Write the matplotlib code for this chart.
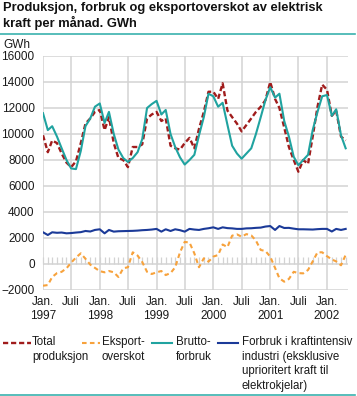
import pandas as pd
import numpy as np
import matplotlib.pyplot as plt
from matplotlib.lines import Line2D

plt.rcParams['font.family'] = ['Liberation Sans', 'DejaVu Sans']

# Monthly values, Jan 1997 - May 2002 (GWh)
months = pd.date_range(start='1997-01-01', periods=65, freq='MS')

total_produksjon = [
    9900, 8600, 9500, 9300, 8500, 7800, 7450, 7900, 9300, 10800, 11200, 11700,
    11850, 10300, 11300, 9300, 8150, 8000, 7450, 9000, 9000, 9200, 11200, 11500,
    11700, 11000, 11200, 9100, 8900, 8800, 9300, 9700, 8900, 10400, 11700, 13250,
    13250, 12700, 13900, 11800, 11300, 10800, 10200, 10700, 11200, 11700, 12100, 12600,
    14000, 12700, 12000, 10500, 9000, 8000, 7100, 8000, 7700, 9800, 12100, 13800,
    13400, 11400, 11800, 9800, 9500,
]
eksportoverskot = [
    -1670, -1620, -1000, -700, -600, -330, 100, 500, 820, 400, -50, -300,
    -550, -640, -540, -640, -1000, -330, -250, 900, 650, 150, -600, -770,
    -640, -540, -850, -700, -250, 900, 1700, 1650, 820, -250, 440, 180,
    570, 690, 1500, 1300, 2180, 2280, 2100, 2300, 2200, 1800, 1080, 1000,
    570, -300, -1100, -1360, -1150, -600, -700, -720, -460, 200, 900, 900,
    600, 350, 200, -100, 700,
]
bruttoforbruk = [
    11600, 10300, 10600, 9800, 8900, 8000, 7350, 7300, 8700, 10600, 11200, 12100,
    12350, 10850, 11700, 10000, 8800, 8150, 7850, 8150, 8600, 9600, 12000, 12300,
    12550, 11500, 11850, 10000, 9000, 8200, 7650, 8000, 8400, 9900, 11300, 13100,
    12900, 12100, 12400, 10700, 9100, 8500, 8100, 8500, 8900, 10000, 11300, 12600,
    13600, 12800, 13100, 11000, 9800, 8250, 7600, 8000, 8400, 10300, 11700, 12900,
    13000, 11400, 11900, 9900, 8900,
]
kraftintensiv = [
    2440, 2230, 2440, 2400, 2420, 2360, 2380, 2420, 2450, 2540, 2500, 2620,
    2670, 2360, 2620, 2490, 2520, 2530, 2540, 2550, 2570, 2600, 2620, 2650,
    2700, 2490, 2670, 2540, 2670, 2600, 2490, 2700, 2650, 2620, 2700, 2750,
    2820, 2700, 2820, 2760, 2740, 2700, 2700, 2740, 2750, 2780, 2800, 2880,
    2920, 2620, 2920, 2770, 2780, 2720, 2670, 2670, 2660, 2650, 2680, 2700,
    2700, 2500, 2700, 2620, 2700,
]

y_ticks = list(range(-2000, 16001, 2000))
x_tick_dates = pd.date_range(start='1997-01-01', end='2002-01-01', freq='6MS')
x_tick_labels = [f'Jan.\n{d.year}' if d.month == 1 else 'Juli' for d in x_tick_dates]

title = 'Produksjon, forbruk og eksportoverskot av elektrisk\nkraft per månad. GWh'
legend_labels = ['Total\nproduksjon', 'Eksport-\noverskot', 'Brutto-\nforbruk',
                 'Forbruk i kraftintensiv\nindustri (eksklusive\nuprioritert kraft til\nelektrokjelar)']

c_red = '#a01c1c'
c_orange = '#f7a23c'
c_teal = '#20a3a0'
c_blue = '#1b3a98'
c_rule = '#3ab1ae'
c_grid = '#d3d3d3'

W, H = 357, 396
fig = plt.figure(figsize=(W / 100, H / 100), dpi=100)
ax = fig.add_axes([43 / W, 1 - 290 / H, (348 - 43) / W, (290 - 56) / H])

styles = [
    dict(color=c_red, lw=1.7, dashes=(2.2, 1.2)),
    dict(color=c_orange, lw=1.5, dashes=(2.2, 1.6)),
    dict(color=c_teal, lw=1.5),
    dict(color=c_blue, lw=1.5),
]
series = [total_produksjon, eksportoverskot, bruttoforbruk, kraftintensiv]
order = [3, 1, 2, 0]
for k in order:
    ax.plot(months, series[k], zorder=3 + k * 0.1, **styles[k])

ax.set_ylim(-2000, 16000)
ax.set_xlim(months[0], pd.Timestamp('2002-05-16'))
ax.set_yticks(y_ticks)
ax.set_xticks(x_tick_dates)
ax.set_xticklabels(x_tick_labels, linespacing=1.25)
ax.tick_params(axis='both', length=0, labelsize=8.5, colors='#1a1a1a')
ax.tick_params(axis='x', pad=4)
ax.tick_params(axis='y', pad=6)
for s in ax.spines.values():
    s.set_visible(False)
ax.grid(True, color=c_grid, lw=1.1)
ax.set_axisbelow(True)

# monthly tick marks on the zero line
sec = ax.secondary_xaxis(2000 / 18000)
sec.set_xticks(months)
sec.tick_params(direction='in', length=5, width=0.9, color=c_grid, labelbottom=False, labeltop=False)
for s in sec.spines.values():
    s.set_visible(False)

# title and rules
fig.text(3 / W, 1 - 2 / H, title, ha='left', va='top', fontsize=9.3, fontweight='bold',
         linespacing=1.15, color='#111111')
fig.add_artist(Line2D([0, 355 / W], [1 - 33.5 / H, 1 - 33.5 / H], color=c_rule, lw=1.2))
fig.add_artist(Line2D([0, 355 / W], [1 - 394.5 / H, 1 - 394.5 / H], color=c_rule, lw=1.2))
fig.text(3 / W, 1 - 48 / H, 'GWh', ha='left', va='baseline', fontsize=8.5, color='#1a1a1a')

# legend
line_x = [(3, 31), (82, 100), (152, 172), (218, 238)]
text_x = [32, 102, 176, 242]
ly = 1 - 343 / H
for k in range(4):
    x0, x1 = line_x[k]
    fig.add_artist(Line2D([x0 / W, x1 / W], [ly, ly], **styles[k]))
    fig.text(text_x[k] / W, 1 - 336 / H, legend_labels[k], ha='left', va='top',
             fontsize=8.3, linespacing=1.3, color='#1a1a1a')

fig.savefig('out.png', dpi=100)
